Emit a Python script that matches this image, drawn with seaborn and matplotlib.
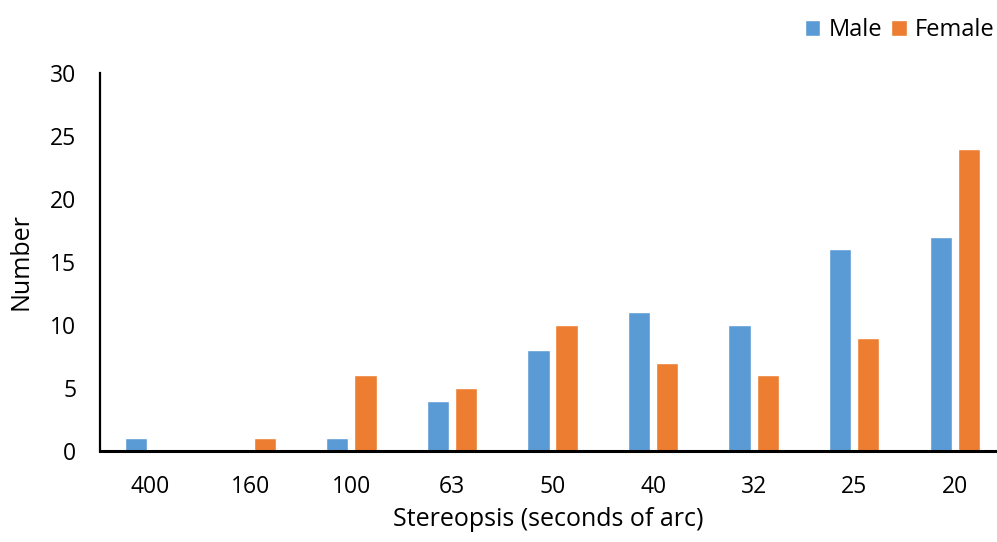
import matplotlib
matplotlib.use("Agg")
import matplotlib.pyplot as plt
import seaborn as sns
import pandas as pd

categories = ["400", "160", "100", "63", "50", "40", "32", "25", "20"]
male = [1, 0, 1, 4, 8, 11, 10, 16, 17]
female = [0, 1, 6, 5, 10, 7, 6, 9, 24]
series_names = ["Male", "Female"]
colors = ["#5B9BD5", "#ED7D31"]

df = pd.DataFrame({
    "Stereopsis": categories * 2,
    "Number": male + female,
    "Sex": [series_names[0]] * len(categories) + [series_names[1]] * len(categories),
})

sns.set_style("white")
plt.rcParams["font.family"] = ["Open Sans", "DejaVu Sans"]
plt.rcParams["text.color"] = "black"
plt.rcParams["axes.labelcolor"] = "black"

fig = plt.figure(figsize=(9.97, 5.42), dpi=100)
ax = fig.add_axes([0.1003, 0.1679, 0.8997, 0.6974])

sns.barplot(data=df, x="Stereopsis", y="Number", hue="Sex", order=categories,
            hue_order=series_names, palette=colors, width=0.56, gap=0.21,
            saturation=1, ax=ax, legend=True)

ax.set_xlim(-0.5, 8.42)
ax.set_ylim(0, 30)
ax.set_yticks(range(0, 31, 5))
ax.tick_params(axis="both", length=0, labelsize=16.5, colors="#000000")
ax.tick_params(axis="x", pad=17)
ax.tick_params(axis="y", pad=17)
for s in ["top", "right"]:
    ax.spines[s].set_visible(False)
ax.spines["left"].set_color("black")
ax.spines["left"].set_linewidth(1.6)
ax.spines["bottom"].set_color("black")
ax.spines["bottom"].set_linewidth(2.2)
ax.set_xlabel("Stereopsis (seconds of arc)", fontsize=18, labelpad=6, color="black")
ax.set_ylabel("Number", fontsize=18, labelpad=12, color="black")

leg = ax.legend(loc="center right", bbox_to_anchor=(1.008, 1.114), ncol=2, frameon=False,
                fontsize=17, handlelength=0.65, handleheight=0.65, handletextpad=0.35,
                columnspacing=0.4, borderaxespad=0, labelcolor="black")

fig.savefig("out.png", dpi=100)
